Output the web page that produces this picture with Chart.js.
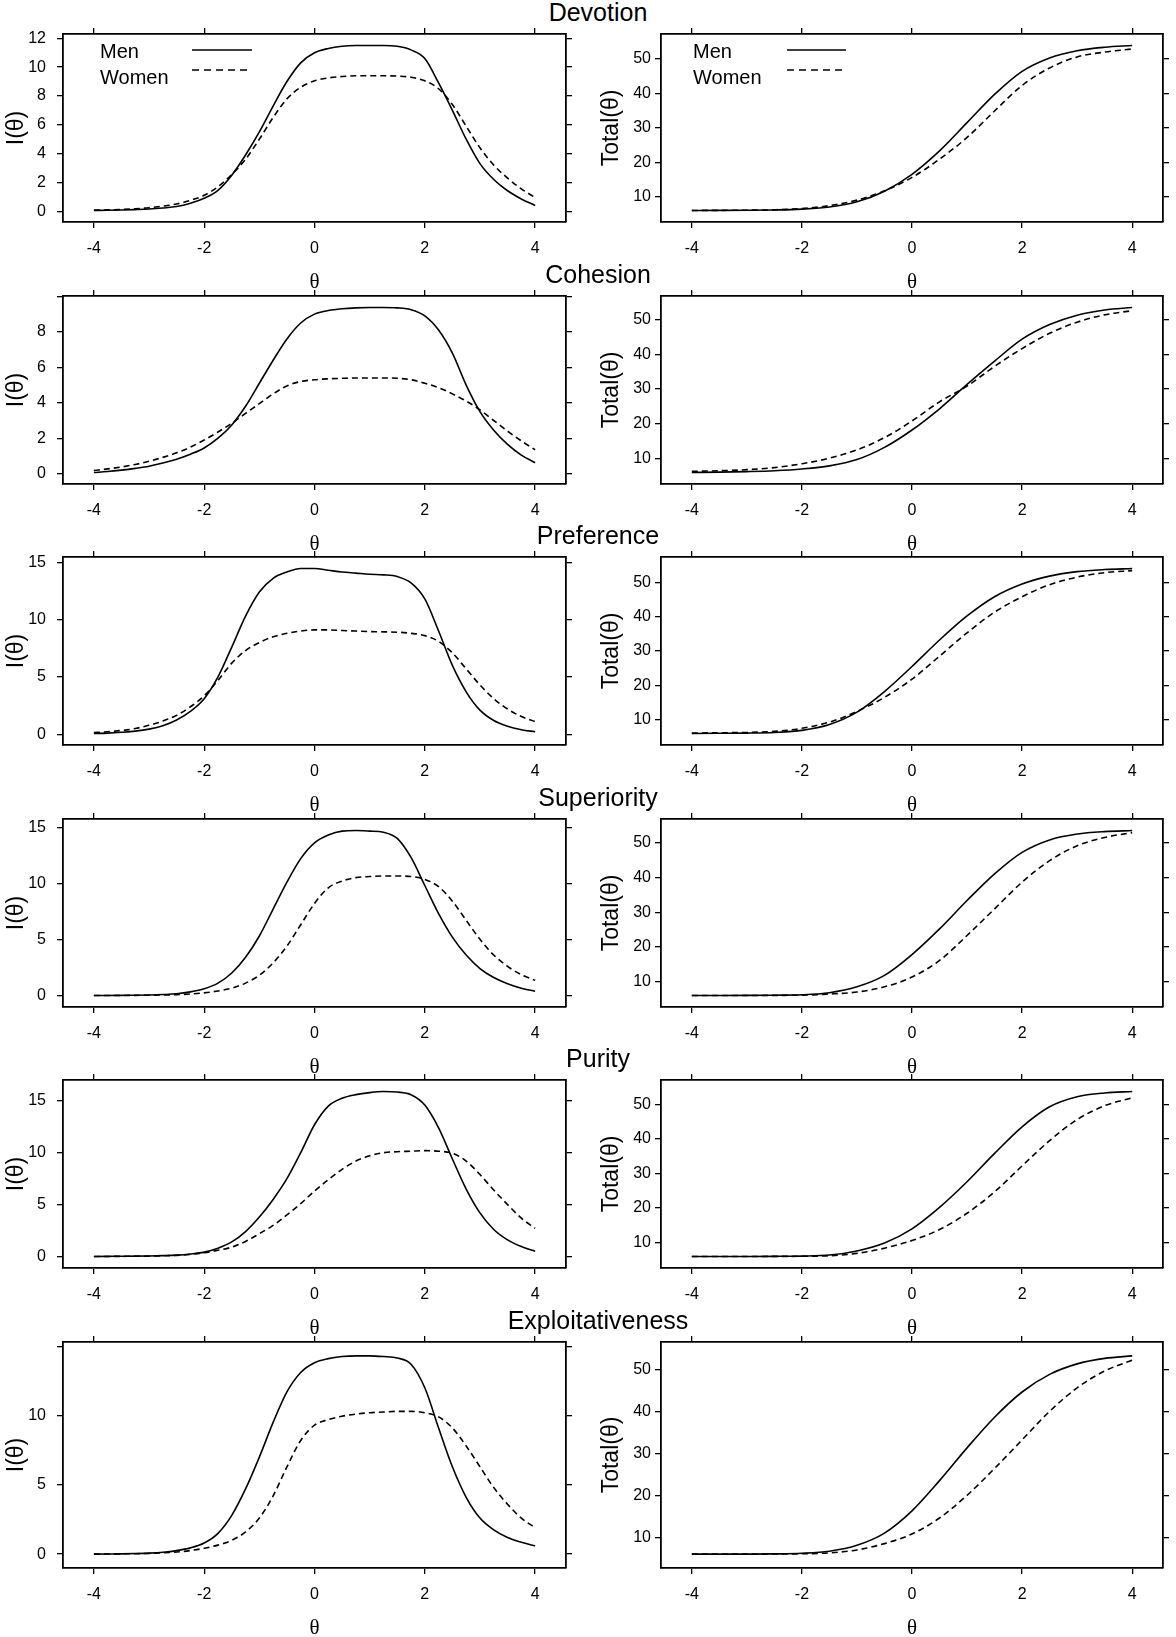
<!DOCTYPE html>
<html>
<head>
<meta charset="utf-8">
<script src="https://cdn.jsdelivr.net/npm/chart.js@4.4.1/dist/chart.umd.min.js"></script>
<style>
  html, body { margin: 0; padding: 0; background: #fff; overflow: hidden; }
  #page { position: relative; width: 1176px; height: 1637px; }
  .panel { position: absolute; }
  .title {
    position: absolute; left: 0; width: 1196px; text-align: center;
    font-family: "Liberation Sans", Arial, sans-serif; font-size: 25px;
    line-height: 30px; color: #000;
  }
</style>
</head>
<body>
<div id="page"></div>
<script>
// ---- data ----
const scales = ["Devotion", "Cohesion", "Preference", "Superiority", "Purity", "Exploitativeness"];

// theta grid of the information curves
const thetaInfo = [-4, -3.75, -3.5, -3.25, -3, -2.75, -2.5, -2.25, -2, -1.75, -1.5, -1.25, -1, -0.75, -0.5, -0.25,
  0, 0.25, 0.5, 0.75, 1, 1.25, 1.5, 1.75, 2, 2.25, 2.5, 2.75, 3, 3.25, 3.5, 3.75, 4];
// theta grid of the test characteristic curves
const thetaTotal = [-4, -3.5, -3, -2.5, -2, -1.5, -1, -0.5, 0, 0.5, 1, 1.5, 2, 2.5, 3, 3.5, 4];

// I(theta), men
const infoMen = [
  [0.05, 0.06, 0.08, 0.11, 0.15, 0.22, 0.32, 0.55, 0.9, 1.45, 2.5, 3.9, 5.5, 7.3, 9.0, 10.3, 11.0, 11.3, 11.45, 11.5, 11.5, 11.5, 11.45, 11.2, 10.6, 8.9, 7.0, 5.0, 3.3, 2.2, 1.42, 0.85, 0.4],
  [0.07, 0.12, 0.2, 0.3, 0.42, 0.6, 0.82, 1.1, 1.45, 2.0, 2.75, 3.8, 5.1, 6.4, 7.6, 8.5, 9.0, 9.2, 9.3, 9.35, 9.37, 9.37, 9.35, 9.25, 8.9, 8.1, 6.8, 5.0, 3.5, 2.45, 1.65, 1.05, 0.62],
  [0.07, 0.1, 0.17, 0.27, 0.45, 0.75, 1.25, 2.0, 3.1, 5.0, 7.6, 10.3, 12.4, 13.6, 14.15, 14.45, 14.45, 14.3, 14.15, 14.05, 13.95, 13.9, 13.75, 13.2, 11.8, 9.0, 6.0, 3.7, 2.1, 1.2, 0.7, 0.4, 0.22],
  [0.0, 0.0, 0.01, 0.02, 0.04, 0.08, 0.15, 0.32, 0.6, 1.1, 2.0, 3.4, 5.3, 7.7, 10.1, 12.2, 13.6, 14.3, 14.65, 14.7, 14.65, 14.55, 14.0, 12.3, 9.8, 7.3, 5.2, 3.6, 2.4, 1.6, 1.05, 0.65, 0.38],
  [0.0, 0.01, 0.02, 0.03, 0.05, 0.08, 0.13, 0.24, 0.42, 0.8, 1.4, 2.4, 3.8, 5.5, 7.5, 10.0, 12.7, 14.5, 15.25, 15.6, 15.8, 15.9, 15.85, 15.6, 14.6, 12.4, 9.4, 6.5, 4.2, 2.6, 1.6, 0.95, 0.5],
  [0.0, 0.01, 0.02, 0.04, 0.07, 0.13, 0.25, 0.45, 0.8, 1.5, 2.8, 4.7, 7.0, 9.5, 11.7, 13.1, 13.8, 14.1, 14.25, 14.3, 14.3, 14.25, 14.15, 13.7, 12.0, 9.1, 6.3, 4.1, 2.6, 1.75, 1.2, 0.85, 0.6]
];
// I(theta), women
const infoWomen = [
  [0.07, 0.09, 0.12, 0.17, 0.24, 0.35, 0.5, 0.75, 1.1, 1.7, 2.55, 3.6, 5.0, 6.5, 7.8, 8.6, 9.05, 9.25, 9.35, 9.4, 9.4, 9.4, 9.38, 9.3, 9.05, 8.5, 7.4, 5.9, 4.4, 3.2, 2.3, 1.55, 0.95],
  [0.18, 0.27, 0.38, 0.52, 0.7, 0.92, 1.18, 1.5, 1.9, 2.35, 2.85, 3.4, 3.95, 4.5, 4.95, 5.2, 5.3, 5.35, 5.38, 5.4, 5.4, 5.4, 5.38, 5.3, 5.1, 4.85, 4.5, 4.1, 3.6, 3.0, 2.4, 1.85, 1.35],
  [0.15, 0.22, 0.33, 0.5, 0.78, 1.15, 1.65, 2.4, 3.35, 4.7, 6.2, 7.3, 8.0, 8.5, 8.8, 9.0, 9.1, 9.1, 9.05, 9.0, 8.95, 8.93, 8.9, 8.8, 8.6, 8.1, 7.1, 5.7, 4.3, 3.1, 2.2, 1.55, 1.1],
  [0.0, 0.0, 0.0, 0.01, 0.02, 0.04, 0.07, 0.13, 0.23, 0.4, 0.65, 1.1, 1.8, 2.9, 4.4, 6.3, 8.2, 9.6, 10.2, 10.5, 10.6, 10.65, 10.65, 10.6, 10.35, 9.7, 8.4, 6.7, 5.0, 3.6, 2.6, 1.85, 1.35],
  [0.0, 0.0, 0.01, 0.02, 0.03, 0.06, 0.1, 0.2, 0.35, 0.6, 0.9, 1.45, 2.2, 3.0, 4.0, 5.1, 6.3, 7.4, 8.4, 9.2, 9.7, 10.0, 10.1, 10.15, 10.2, 10.15, 9.95, 9.2, 7.9, 6.4, 5.0, 3.7, 2.7],
  [0.0, 0.01, 0.02, 0.03, 0.05, 0.09, 0.15, 0.26, 0.42, 0.65, 1.0, 1.6, 2.6, 4.2, 6.3, 8.2, 9.3, 9.7, 9.95, 10.1, 10.2, 10.25, 10.3, 10.3, 10.2, 9.9, 9.1, 7.8, 6.3, 4.8, 3.6, 2.6, 1.9]
];
// Total(theta), men
const totalMen = [
  [6.0, 6.02, 6.05, 6.15, 6.4, 7.0, 8.5, 11.6, 16.5, 23.3, 31.5, 39.7, 46.4, 50.3, 52.4, 53.4, 53.9],
  [6.0, 6.1, 6.25, 6.5, 7.0, 7.9, 9.7, 13.2, 18.2, 24.3, 31.3, 38.0, 44.3, 48.5, 51.2, 52.7, 53.4],
  [6.0, 6.05, 6.1, 6.3, 6.9, 8.6, 12.2, 18.2, 25.5, 33.2, 40.2, 45.8, 49.5, 51.8, 53.1, 53.7, 54.0],
  [6.0, 6.0, 6.02, 6.08, 6.2, 6.8, 8.5, 11.8, 17.8, 25.2, 33.4, 41.1, 47.3, 50.9, 52.6, 53.3, 53.6],
  [6.0, 6.0, 6.0, 6.03, 6.1, 6.4, 7.6, 9.9, 14.0, 20.2, 27.6, 35.8, 43.5, 49.3, 52.2, 53.3, 53.7],
  [6.0, 6.0, 6.0, 6.05, 6.2, 6.7, 8.1, 11.0, 16.3, 23.5, 31.3, 38.6, 44.6, 48.8, 51.3, 52.6, 53.2]
];
// Total(theta), women
const totalWomen = [
  [6.0, 6.03, 6.08, 6.2, 6.55, 7.4, 9.0, 11.7, 15.6, 20.9, 27.2, 34.9, 42.3, 47.4, 50.6, 52.0, 52.9],
  [6.3, 6.5, 6.8, 7.4, 8.5, 10.1, 12.5, 16.0, 20.8, 26.3, 30.8, 36.5, 41.6, 46.0, 49.2, 51.3, 52.5],
  [6.1, 6.2, 6.3, 6.6, 7.5, 9.3, 12.4, 16.5, 21.8, 28.5, 35.3, 41.3, 45.8, 49.3, 51.5, 52.8, 53.4],
  [6.0, 6.0, 6.0, 6.02, 6.1, 6.4, 7.0, 8.5, 11.3, 16.1, 23.3, 31.0, 38.7, 44.9, 49.2, 51.6, 53.0],
  [6.0, 6.0, 6.0, 6.02, 6.05, 6.2, 6.9, 8.4, 10.6, 13.8, 18.5, 24.7, 32.2, 39.5, 45.6, 49.6, 51.9],
  [6.0, 6.0, 6.0, 6.02, 6.08, 6.3, 7.0, 8.5, 10.8, 14.6, 20.0, 26.4, 33.2, 40.0, 45.6, 49.6, 52.2]
];

// tick marks and labelled ticks
const thetaTicks = [-4, -2, 0, 2, 4];
const infoStep = [2, 2, 5, 5, 5, 5];
const infoTickLabels = [[0, 2, 4, 6, 8, 10, 12], [0, 2, 4, 6, 8], [0, 5, 10, 15], [0, 5, 10, 15], [0, 5, 10, 15], [0, 5, 10]];
const totalStep = 10;
const totalTickLabels = [10, 20, 30, 40, 50];

// ---- layout ----
const rowPitch = 261.6;
const boxTop0 = 34;
const boxHeights = [188, 188, 188, 188, 188, 226];
const TOP = 24, BOTTOM = 76;

Chart.defaults.font.family = "'Liberation Sans', Arial, sans-serif";
Chart.defaults.color = "#000";

// "Men / Women" key drawn inside the first row's panels
const keyPlugin = {
  id: "key",
  afterDraw(chart, args, o) {
    if (!o || !o.show) return;
    const { ctx, chartArea: a } = chart;
    ctx.save();
    ctx.fillStyle = "#000";
    ctx.font = "20px 'Liberation Sans', Arial, sans-serif";
    ctx.textBaseline = "middle";
    ctx.fillText("Men", a.left + o.textX, a.top + 18);
    ctx.fillText("Women", a.left + o.textX, a.top + 44);
    ctx.strokeStyle = "#000";
    ctx.lineWidth = 1.6;
    ctx.beginPath();
    ctx.moveTo(a.left + o.x0, a.top + 16);
    ctx.lineTo(a.left + o.x1, a.top + 16);
    ctx.stroke();
    ctx.setLineDash([7, 5]);
    ctx.beginPath();
    ctx.moveTo(a.left + o.x0, a.top + 36);
    ctx.lineTo(a.left + o.x1 - 4, a.top + 36);
    ctx.stroke();
    ctx.restore();
  }
};

function paddedRange(a, b) {
  const lo = Math.min(...a, ...b), hi = Math.max(...a, ...b);
  const d = (hi - lo) * 0.07;
  return [lo - d, hi + d];
}

function axisLine() {
  return {
    grid: { drawOnChartArea: false, drawTicks: true, tickLength: 6, color: "#000", lineWidth: 1.3 },
    border: { display: true, color: "#000", width: 1.8 }
  };
}

function makePanel(p) {
  const page = document.getElementById("page");
  const w = p.lw + p.boxW + p.rw;
  const h = TOP + p.boxH + BOTTOM;
  const div = document.createElement("div");
  div.className = "panel";
  div.style.left = p.left + "px";
  div.style.top = (p.boxTop - TOP) + "px";
  div.style.width = w + "px";
  div.style.height = h + "px";
  const cv = document.createElement("canvas");
  cv.width = w; cv.height = h;
  div.appendChild(cv);
  page.appendChild(div);

  const [ymin, ymax] = paddedRange(p.men, p.women);
  const xr = [-4 - 8 * 0.07, 4 + 8 * 0.07];
  const line = (xs, ys, dash) => ({
    data: xs.map((x, i) => ({ x: x, y: ys[i] })),
    borderColor: "#000", borderWidth: 1.6, borderDash: dash,
    pointRadius: 0, fill: false, cubicInterpolationMode: "monotone"
  });

  new Chart(cv, {
    type: "line",
    data: { datasets: [line(p.xs, p.men, []), line(p.xs, p.women, [6, 4])] },
    plugins: [keyPlugin],
    options: {
      responsive: false, animation: false,
      layout: { padding: 0 },
      plugins: { legend: { display: false }, tooltip: { enabled: false }, key: p.key },
      scales: {
        x: Object.assign(axisLine(), {
          type: "linear", position: "bottom", min: xr[0], max: xr[1],
          afterBuildTicks: (s) => { s.ticks = thetaTicks.map(v => ({ value: v })); },
          ticks: { font: { size: 16 }, padding: 11, maxRotation: 0 },
          title: { display: true, text: "θ", font: { family: "'Liberation Serif', 'Times New Roman', serif", size: 21 }, padding: { top: 0, bottom: 3 } },
          afterFit: (s) => { s.height = BOTTOM; }
        }),
        x2: Object.assign(axisLine(), {
          type: "linear", position: "top", min: xr[0], max: xr[1],
          afterBuildTicks: (s) => { s.ticks = thetaTicks.map(v => ({ value: v })); },
          ticks: { display: false },
          afterFit: (s) => { s.height = TOP; }
        }),
        y: Object.assign(axisLine(), {
          type: "linear", position: "left", min: ymin, max: ymax,
          ticks: {
            stepSize: p.step, includeBounds: false, font: { size: 16 }, padding: p.labelPad,
            callback: (v) => (p.labels.includes(v) ? String(v) : "")
          },
          title: { display: true, text: p.yTitle, font: { size: 23 }, padding: { top: p.titlePad, bottom: 0 } },
          afterFit: (s) => { s.width = p.lw; }
        }),
        y2: Object.assign(axisLine(), {
          type: "linear", position: "right", min: ymin, max: ymax,
          ticks: { display: false, stepSize: p.step, includeBounds: false },
          afterFit: (s) => { s.width = p.rw; }
        })
      }
    }
  });
}

scales.forEach((name, r) => {
  const boxTop = boxTop0 + rowPitch * r;
  const t = document.createElement("div");
  t.className = "title";
  t.textContent = name;
  t.style.top = (boxTop - 37) + "px";
  document.getElementById("page").appendChild(t);

  makePanel({
    left: 0, lw: 63, boxW: 503, rw: 14, boxTop: boxTop, boxH: boxHeights[r],
    xs: thetaInfo, men: infoMen[r], women: infoWomen[r],
    step: infoStep[r], labels: infoTickLabels[r], labelPad: 11,
    yTitle: "I(θ)", titlePad: 3,
    key: { show: r === 0, textX: 37, x0: 129, x1: 189 }
  });
  makePanel({
    left: 590, lw: 71, boxW: 502, rw: 13, boxTop: boxTop, boxH: boxHeights[r],
    xs: thetaTotal, men: totalMen[r], women: totalWomen[r],
    step: totalStep, labels: totalTickLabels, labelPad: 4,
    yTitle: "Total(θ)", titlePad: 8,
    key: { show: r === 0, textX: 32, x0: 126, x1: 185 }
  });
});
</script>
</body>
</html>
